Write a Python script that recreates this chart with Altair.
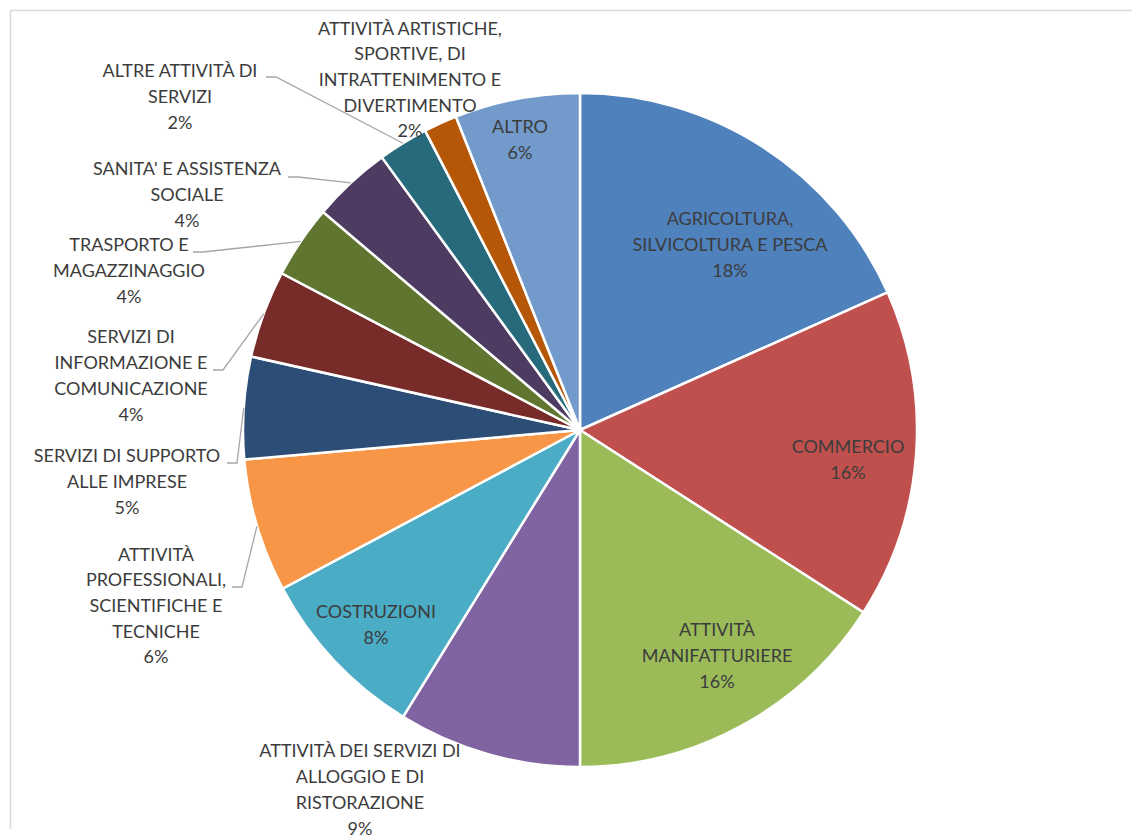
import altair as alt
import numpy as np
import pandas as pd

# ---------------- data ----------------
categories = [
    "AGRICOLTURA, SILVICOLTURA E PESCA",
    "COMMERCIO",
    "ATTIVITÀ MANIFATTURIERE",
    "ATTIVITÀ DEI SERVIZI DI ALLOGGIO E DI RISTORAZIONE",
    "COSTRUZIONI",
    "ATTIVITÀ PROFESSIONALI, SCIENTIFICHE E TECNICHE",
    "SERVIZI DI SUPPORTO ALLE IMPRESE",
    "SERVIZI DI INFORMAZIONE E COMUNICAZIONE",
    "TRASPORTO E MAGAZZINAGGIO",
    "SANITA' E ASSISTENZA SOCIALE",
    "ALTRE ATTIVITÀ DI SERVIZI",
    "ATTIVITÀ ARTISTICHE, SPORTIVE, DI INTRATTENIMENTO E DIVERTIMENTO",
    "ALTRO",
]
values = [18.3, 15.8, 15.9, 8.8, 8.4, 6.4, 4.9, 4.2, 3.5, 3.8, 2.4, 1.6, 6.0]
pct_labels = ["18%", "16%", "16%", "9%", "8%", "6%", "5%", "4%", "4%", "4%", "2%", "2%", "6%"]
label_lines = [
    ["AGRICOLTURA,", "SILVICOLTURA E PESCA"],
    ["COMMERCIO"],
    ["ATTIVITÀ", "MANIFATTURIERE"],
    ["ATTIVITÀ DEI SERVIZI DI", "ALLOGGIO E DI", "RISTORAZIONE"],
    ["COSTRUZIONI"],
    ["ATTIVITÀ", "PROFESSIONALI,", "SCIENTIFICHE E", "TECNICHE"],
    ["SERVIZI DI SUPPORTO", "ALLE IMPRESE"],
    ["SERVIZI DI", "INFORMAZIONE E", "COMUNICAZIONE"],
    ["TRASPORTO E", "MAGAZZINAGGIO"],
    ["SANITA' E ASSISTENZA", "SOCIALE"],
    ["ALTRE ATTIVITÀ DI", "SERVIZI"],
    ["ATTIVITÀ ARTISTICHE,", "SPORTIVE, DI", "INTRATTENIMENTO E", "DIVERTIMENTO"],
    ["ALTRO"],
]

# ---------------- styling / layout ----------------
colors = ["#4F81BD", "#C0504D", "#9BBB59", "#8064A2", "#4BACC6", "#F79646",
          "#2C4D75", "#772C2A", "#5F7530", "#4D3B62", "#276A7C", "#B65708", "#729ACA"]

W, H = 1124, 821          # view size
CX, CY = 572, 422         # pie centre inside the view
R = 337                   # pie radius
FONT = "Lato"
FS = 18
LH = 25.7
TEXT_COLOR = "#3C3C3C"

# label block centres, offsets from the pie centre (Excel "best fit" layout)
label_offsets = [
    (150, -184), (268, 31), (137, 227), (-220, 361), (-204, 196),
    (-424, 177), (-453, 53), (-449, -53), (-451, -158), (-393, -234),
    (-400, -332), (-170, -349), (-60, -289),
]
# leader line start (text side), offsets from pie centre; None = no leader
leader_starts = [
    None, None, None, None, None,
    (-348, 157), (-353, 33), (-367, -60), (-387, -178), (-292, -253),
    (-314, -353), None, None,
]
ELBOW = 10

# ---------------- tables ----------------
nlines = [len(l) + 1 for l in label_lines]
df = pd.DataFrame({
    "cat": categories,
    "val": values,
    "idx": list(range(len(categories))),
    "label": ["\n".join(l + [p]) for l, p in zip(label_lines, pct_labels)],
    "lx": [o[0] for o in label_offsets],
    # vega places the first line at y: shift so the whole block is centred
    "ly": [o[1] - (n - 1) * LH / 2 for o, n in zip(label_offsets, nlines)],
})

tot = float(np.sum(values))
cum = np.cumsum(values)
mid = (cum - np.array(values) / 2) / tot * 2 * np.pi
rows = []
for i, s in enumerate(leader_starts):
    if s is None:
        continue
    ex, ey = R * np.sin(mid[i]), -R * np.cos(mid[i])
    rows += [
        {"cat": categories[i], "pt": 0, "x": s[0], "y": s[1]},
        {"cat": categories[i], "pt": 1, "x": s[0] + ELBOW, "y": s[1]},
        {"cat": categories[i], "pt": 2, "x": ex, "y": ey},
    ]
lead = pd.DataFrame(rows)

xs = alt.Scale(domain=[-CX, W - CX], nice=False, zero=False)
ys = alt.Scale(domain=[-CY, H - CY], nice=False, zero=False, reverse=True)

pie = alt.Chart(df).mark_arc(radius=R, stroke="white", strokeWidth=2.5).encode(
    theta=alt.Theta("val:Q", stack=True),
    color=alt.Color("cat:N", scale=alt.Scale(domain=categories, range=colors), legend=None),
    order=alt.Order("idx:Q"),
    x=alt.value(CX),
    y=alt.value(CY),
)

leaders = alt.Chart(lead).mark_line(color="#A6A6A6", strokeWidth=1.3).encode(
    x=alt.X("x:Q", scale=xs, axis=None),
    y=alt.Y("y:Q", scale=ys, axis=None),
    detail="cat:N",
    order="pt:Q",
)

labels = alt.Chart(df).mark_text(
    font=FONT, fontSize=FS, color=TEXT_COLOR, lineBreak="\n", lineHeight=LH,
    align="center", baseline="middle",
).encode(
    x=alt.X("lx:Q", scale=xs, axis=None),
    y=alt.Y("ly:Q", scale=ys, axis=None),
    text="label:N",
)

one = pd.DataFrame({"a": [0]})
border_top = alt.Chart(one).mark_rule(color="#D9D9D9", strokeWidth=1.5).encode(
    x=alt.value(2), x2=alt.value(W), y=alt.value(2.5))
border_left = alt.Chart(one).mark_rule(color="#D9D9D9", strokeWidth=1.5).encode(
    x=alt.value(2.5), y=alt.value(2), y2=alt.value(H))

chart = alt.layer(border_top, border_left, pie, leaders, labels).properties(
    width=W, height=H, padding=0, background="white"
).configure_view(stroke=None)

chart.save("out.html", embed_options={"renderer": "svg", "actions": False})
